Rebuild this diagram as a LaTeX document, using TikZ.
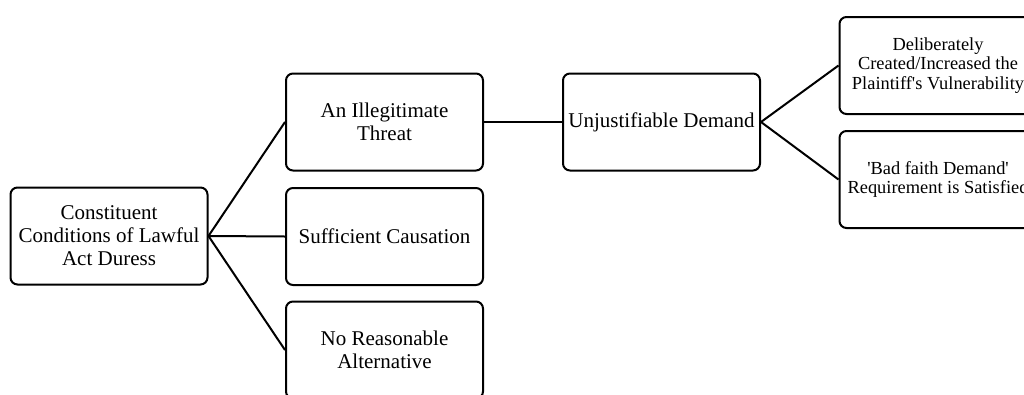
\documentclass[tikz,border=0pt]{standalone}
\usepackage{fontspec}
\setmainfont{Liberation Serif}
\tikzset{
    box/.style={draw, line width=2pt, rounded corners=7pt, minimum width=197pt,
        minimum height=97pt, inner sep=0pt, align=center,
        font=\fontsize{21}{23}\selectfont},
    smallbox/.style={box, font=\fontsize{18.4}{19.5}\selectfont},
    link/.style={line width=2pt}
}
\begin{document}
\begin{tikzpicture}[x=1pt,y=-1pt]
    \useasboundingbox (0,0) rectangle (1024,394);
    \clip (0,0) rectangle (1024,394);
    \node[box] (duress) at (109,236) {Constituent\\Conditions of Lawful\\Act Duress};
    \node[box] (threat) at (384.5,122) {An Illegitimate\\Threat};
    \node[box] (causation) at (384.5,236.5) {Sufficient Causation};
    \node[box] (alternative) at (384.5,350) {No Reasonable\\Alternative};
    \node[box] (demand) at (661.5,122) {Unjustifiable Demand};
    \node[smallbox] (vulnerable) at (938,65.5) {Deliberately\\Created/Increased the\\Plaintiff\textquotesingle s Vulnerability};
    \node[smallbox] (badfaith) at (938,179.5) {\textquotesingle Bad faith Demand\textquotesingle\\Requirement is Satisfied};
    \draw[link] (duress.east) -- (threat.west);
    \draw[link] (duress.east) -- (causation.west);
    \draw[link] (duress.east) -- (alternative.west);
    \draw[link] (threat.east) -- (demand.west);
    \draw[link] (demand.east) -- (vulnerable.west);
    \draw[link] (demand.east) -- (badfaith.west);
\end{tikzpicture}
\end{document}
